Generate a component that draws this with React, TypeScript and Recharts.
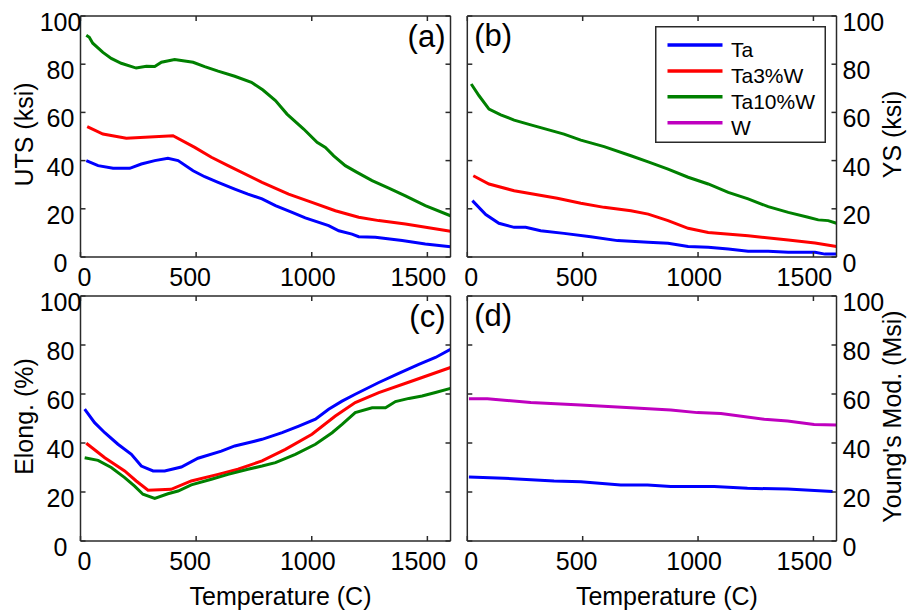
import React from 'react';
import { LineChart, Line, XAxis, YAxis, Legend } from 'recharts';

const FONT = '"Liberation Sans", Arial, Helvetica, sans-serif';
const W = 907;
const H = 612;

const tempTicks = [0, 500, 1000, 1500];
const valueTicks = [0, 20, 40, 60, 80, 100];
const seriesNames = ['Ta', 'Ta3%W', 'Ta10%W', 'W'];
const seriesColors = ['#0000FF', '#FF0000', '#008000', '#BF00BF'];
const panelLabels = ['(a)', '(b)', '(c)', '(d)'];
const yTitles = ['UTS (ksi)', 'YS (ksi)', 'Elong. (%)', "Young's Mod. (Msi)"];
const xTitle = 'Temperature (C)';

// (a) UTS
const utsTaT = [25, 76, 141, 213, 263, 321, 378, 422, 487, 537, 595, 667, 724, 785, 843, 915, 972, 1073, 1117, 1174, 1203, 1275, 1391, 1491, 1600];
const utsTaV = [40, 37.9, 36.8, 36.8, 38.6, 40, 41, 40, 35.8, 33.3, 31, 28.2, 26.1, 24.1, 21.3, 18.5, 16.2, 13, 10.9, 9.5, 8.4, 8.2, 6.8, 5.4, 4.3];
const uts3T = [29, 97, 198, 400, 494, 566, 638, 785, 900, 1001, 1102, 1203, 1290, 1405, 1600];
const uts3V = [54.1, 51, 49.3, 50.3, 45.5, 41.4, 37.9, 31, 26.1, 22.7, 19.2, 16.5, 15.1, 13.7, 10.7];
const uts10T = [25, 38, 53, 97, 133, 176, 241, 285, 321, 350, 407, 487, 537, 595, 667, 739, 789, 843, 893, 965, 1023, 1059, 1095, 1145, 1196, 1261, 1333, 1405, 1491, 1600];
const uts10V = [92, 91.2, 88.7, 84.9, 82.4, 80.4, 78.4, 79.1, 79, 80.8, 81.9, 80.8, 79, 77.1, 75, 72.5, 69.3, 64.9, 59.3, 53.1, 47.6, 45.5, 42, 37.9, 35.1, 31.7, 28.6, 25.4, 21.3, 17.1];

// (b) YS
const ysTaT = [22, 80, 137, 203, 253, 318, 419, 535, 651, 784, 870, 957, 1044, 1131, 1217, 1304, 1391, 1507, 1550, 1600];
const ysTaV = [23.4, 17.6, 14, 12.3, 12.3, 10.9, 9.8, 8.4, 6.8, 6.1, 5.7, 4.4, 4, 3.3, 2.4, 2.4, 2, 2, 1.2, 1.2];
const ys3T = [26, 94, 203, 390, 492, 593, 709, 784, 870, 957, 1044, 1217, 1391, 1507, 1600];
const ys3V = [33.7, 30.3, 27.5, 24.4, 22.3, 20.6, 19.2, 17.8, 15.1, 11.9, 10.2, 8.8, 7.1, 5.8, 4.4];
const ys10T = [17, 51, 94, 145, 203, 275, 419, 492, 593, 709, 784, 870, 957, 1044, 1131, 1217, 1304, 1391, 1477, 1521, 1564, 1600];
const ys10V = [71.8, 66.9, 61.4, 59, 56.8, 54.8, 51, 48.5, 45.8, 42, 39.5, 36.5, 33.1, 30.3, 26.8, 24.1, 20.9, 18.5, 16.5, 15.4, 15.1, 14];

// (c) Elongation
const elTaT = [18, 61, 105, 162, 220, 263, 314, 364, 436, 508, 609, 667, 739, 785, 872, 944, 1016, 1073, 1131, 1188, 1290, 1376, 1463, 1535, 1600];
const elTaV = [53.8, 48.3, 44.2, 39.5, 35.4, 30.6, 28.6, 28.6, 30.2, 33.8, 36.7, 38.8, 40.4, 41.5, 44.2, 46.9, 49.7, 53.8, 57.1, 59.9, 64.7, 68.4, 72.1, 74.9, 78.2];
const el3T = [25, 105, 191, 241, 292, 392, 479, 595, 681, 785, 886, 1001, 1102, 1188, 1290, 1434, 1600];
const el3V = [39.9, 34, 28.6, 24.5, 20.7, 21.1, 24.5, 27.2, 29.3, 32.7, 37.4, 43.6, 51, 56.5, 60.6, 65.3, 70.8];
const el10T = [18, 76, 133, 191, 234, 270, 321, 378, 422, 479, 566, 638, 724, 785, 843, 929, 1016, 1088, 1131, 1188, 1261, 1319, 1362, 1420, 1477, 1535, 1600];
const el10V = [34, 32.9, 30, 25.9, 22.4, 19.1, 17.4, 19.3, 20.4, 22.9, 25.2, 27.2, 29.3, 30.6, 32, 35.4, 39.5, 44.2, 47.6, 52.4, 54.4, 54.4, 56.9, 58.2, 59.2, 60.6, 62.3];

// (d) Young's modulus
const ymTaT = [7, 159, 376, 492, 665, 781, 882, 1070, 1214, 1388, 1583];
const ymTaV = [26.1, 25.6, 24.5, 24.2, 22.9, 22.9, 22.2, 22.2, 21.5, 21.2, 20.2];
const ymWT = [7, 87, 275, 492, 709, 882, 997, 1099, 1287, 1388, 1503, 1598];
const ymWV = [58.1, 58.1, 56.5, 55.5, 54.4, 53.5, 52.4, 52, 49.7, 49, 47.6, 47.3];

const pts = (T: number[], V: number[]) => T.map((t, i) => ({ T: t, v: V[i] }));

type Rect = { x0: number; x1: number; y0: number; y1: number };
type S = { idx: number; data: { T: number; v: number }[] };
type Cfg = {
  plot: Rect;
  side: 'left' | 'right';
  n: number;
  showXTitle: boolean;
  legend: boolean;
  series: S[];
};

const panels: Cfg[] = [
  {
    plot: { x0: 80.5, x1: 450.5, y0: 16, y1: 257 }, side: 'left', n: 0, showXTitle: false, legend: false,
    series: [
      { idx: 0, data: pts(utsTaT, utsTaV) },
      { idx: 1, data: pts(uts3T, uts3V) },
      { idx: 2, data: pts(uts10T, uts10V) },
    ],
  },
  {
    plot: { x0: 467.3, x1: 836.5, y0: 16, y1: 257 }, side: 'right', n: 1, showXTitle: false, legend: true,
    series: [
      { idx: 0, data: pts(ysTaT, ysTaV) },
      { idx: 1, data: pts(ys3T, ys3V) },
      { idx: 2, data: pts(ys10T, ys10V) },
    ],
  },
  {
    plot: { x0: 80.5, x1: 450.5, y0: 296, y1: 541 }, side: 'left', n: 2, showXTitle: true, legend: false,
    series: [
      { idx: 0, data: pts(elTaT, elTaV) },
      { idx: 1, data: pts(el3T, el3V) },
      { idx: 2, data: pts(el10T, el10V) },
    ],
  },
  {
    plot: { x0: 467.3, x1: 836.5, y0: 296, y1: 541 }, side: 'right', n: 3, showXTitle: true, legend: false,
    series: [
      { idx: 3, data: pts(ymWT, ymWV) },
      { idx: 0, data: pts(ymTaT, ymTaV) },
    ],
  },
];

const xLabelDx = [4, -6, -4, -9];
const FRAME = '#2a2a2a';

function LegendBox() {
  return (
    <svg width={171} height={117} style={{ display: 'block', fontFamily: FONT }}>
      <rect x={0.75} y={0.75} width={169.5} height={115.5} fill="#fff" stroke={FRAME} strokeWidth={1.5} />
      {seriesNames.map((name, i) => {
        const y = 19 + i * 25.9;
        return (
          <g key={name}>
            <line x1={12.5} x2={67.5} y1={y} y2={y} stroke={seriesColors[i]} strokeWidth={3.5} />
            <text x={76} y={y + 12} fontSize={21} fill="#000">{name}</text>
          </g>
        );
      })}
    </svg>
  );
}

function Panel({ cfg }: { cfg: Cfg }) {
  const { plot } = cfg;
  const AXW = 40;
  const AXT = 10;
  const AXB = 40;
  const margin = {
    left: plot.x0 - AXW,
    right: W - plot.x1 - AXW,
    top: plot.y0 - AXT,
    bottom: H - plot.y1 - AXB,
  };
  const line = { stroke: FRAME, strokeWidth: 1.5 };
  const empty = () => <g />;
  const bottomTick = (p: any) => (
    <text x={p.x + xLabelDx[p.index]} y={plot.y1 + 29} textAnchor="middle" fontSize={25} fill="#000" fontFamily={FONT}>
      {p.payload.value}
    </text>
  );
  const leftTick = (p: any) => (
    <text x={plot.x0 - 20} y={p.y + 15} textAnchor="middle" fontSize={25} fill="#000" fontFamily={FONT}>
      {p.payload.value}
    </text>
  );
  const rightTick = (p: any) => (
    <text x={plot.x1 + 6} y={p.y + 15} textAnchor="start" fontSize={25} fill="#000" fontFamily={FONT}>
      {p.payload.value}
    </text>
  );
  const yTitleContent = () => {
    const cx = cfg.side === 'left' ? 24 : 892;
    const cy = (plot.y0 + plot.y1) / 2 - 2;
    return (
      <text transform={`translate(${cx},${cy}) rotate(-90)`} x={0} y={9} textAnchor="middle" fontSize={25} fill="#000" fontFamily={FONT}>
        {yTitles[cfg.n]}
      </text>
    );
  };
  const xTitleContent = () => (
    <text x={(plot.x0 + plot.x1) / 2 + 15} y={605} textAnchor="middle" fontSize={25} fill="#000" fontFamily={FONT}>
      {xTitle}
    </text>
  );
  const panelLabelContent = () => (
    cfg.side === 'left' ? (
      <text x={plot.x1 - 5} y={plot.y0 + 31} textAnchor="end" fontSize={31} fill="#000" fontFamily={FONT}>
        {panelLabels[cfg.n]}
      </text>
    ) : (
      <text x={plot.x0 + 7} y={plot.y0 + 30} textAnchor="start" fontSize={31} fill="#000" fontFamily={FONT}>
        {panelLabels[cfg.n]}
      </text>
    )
  );

  return (
    <div style={{ position: 'absolute', left: 0, top: 0 }}>
      <LineChart width={W} height={H} margin={margin}>
        <XAxis
          xAxisId="b" type="number" dataKey="T" domain={[0, 1600]} ticks={tempTicks} allowDataOverflow
          orientation="bottom" height={AXB} tickSize={-5} tickMargin={5} axisLine={line} tickLine={line}
          tick={bottomTick} interval={0}
          label={cfg.showXTitle ? { value: xTitle, content: xTitleContent } : undefined}
        />
        <XAxis
          xAxisId="t" type="number" dataKey="T" domain={[0, 1600]} ticks={tempTicks} allowDataOverflow
          orientation="top" height={AXT} tickSize={-5} axisLine={line} tickLine={line} tick={empty} interval={0}
          label={{ value: panelLabels[cfg.n], content: panelLabelContent }}
        />
        <YAxis
          yAxisId="l" type="number" domain={[0, 100]} ticks={valueTicks} allowDataOverflow
          orientation="left" width={AXW} tickSize={-5} axisLine={line} tickLine={line} interval={0}
          tick={cfg.side === 'left' ? leftTick : empty}
          label={cfg.side === 'left' ? { value: yTitles[cfg.n], content: yTitleContent } : undefined}
        />
        <YAxis
          yAxisId="r" type="number" domain={[0, 100]} ticks={valueTicks} allowDataOverflow
          orientation="right" width={AXW} tickSize={-5} axisLine={line} tickLine={line} interval={0}
          tick={cfg.side === 'right' ? rightTick : empty}
          label={cfg.side === 'right' ? { value: yTitles[cfg.n], content: yTitleContent } : undefined}
        />
        {cfg.series.map((s) => (
          <Line
            key={seriesNames[s.idx]}
            name={seriesNames[s.idx]}
            xAxisId="b"
            yAxisId="l"
            data={s.data}
            dataKey="v"
            type="linear"
            stroke={seriesColors[s.idx]}
            strokeWidth={3}
            dot={false}
            activeDot={false}
            isAnimationActive={false}
          />
        ))}
        {cfg.legend && (
          <Legend
            layout="vertical"
            align="center"
            verticalAlign="middle"
            content={() => <LegendBox />}
            wrapperStyle={{ position: 'absolute', left: 655, top: 26, width: 171, height: 117, margin: 0, padding: 0 }}
          />
        )}
      </LineChart>
    </div>
  );
}

export default function App() {
  return (
    <div style={{ position: 'absolute', left: 0, top: 0, width: W, height: H, background: '#fff', fontFamily: FONT }}>
      {panels.map((cfg) => (
        <Panel key={cfg.n} cfg={cfg} />
      ))}
    </div>
  );
}
